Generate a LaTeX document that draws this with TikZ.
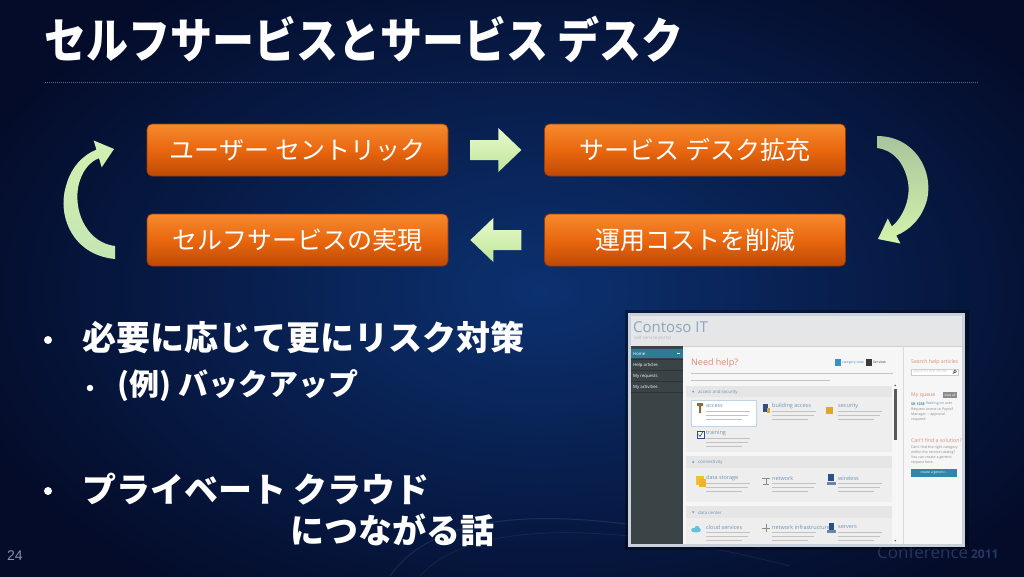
\documentclass[tikz,border=0pt]{standalone}
\usepackage{fontspec}
\setmainfont{Noto Sans CJK JP}
\newfontfamily\uifont{Open Sans}
\newfontfamily\numfont{Liberation Sans}
\usetikzlibrary{calc}
\definecolor{bgc}{HTML}{040C2A}
\definecolor{glowc}{HTML}{0C3170}
\definecolor{orgtop}{HTML}{F68A2E}
\definecolor{orgmid}{HTML}{E9670F}
\definecolor{orgbot}{HTML}{BE4A06}
\definecolor{orgedge}{HTML}{9A3A05}
\definecolor{arrlight}{HTML}{E8FACB}
\definecolor{arrdark}{HTML}{BFE59A}
\definecolor{rulec}{HTML}{5A6688}
\definecolor{scrframe}{HTML}{C9D1DC}
\definecolor{hdrc}{HTML}{E5E6E7}
\definecolor{navc}{HTML}{3A4446}
\definecolor{navsep}{HTML}{2C3436}
\definecolor{navhi}{HTML}{2E7C94}
\definecolor{mainc}{HTML}{F6F6F6}
\definecolor{panelc}{HTML}{EEEEEE}
\definecolor{panelhd}{HTML}{E6E6E6}
\definecolor{salmon}{HTML}{D98A72}
\definecolor{linkc}{HTML}{6E93B4}
\definecolor{greytxt}{HTML}{C2C2C2}
\definecolor{darktxt}{HTML}{8A8A8A}
\definecolor{tealbtn}{HTML}{2F88A8}
\definecolor{confc}{HTML}{27375F}
\definecolor{brandc}{HTML}{8AA6BE}
\definecolor{pgc}{HTML}{8A93A8}
\definecolor{tagline}{HTML}{B0B8C2}
\definecolor{cl1}{HTML}{D2F0B0}
\definecolor{cl2}{HTML}{C4E6B2}
\definecolor{cr1}{HTML}{A8C49C}
\definecolor{cr2}{HTML}{D4F3AC}
\definecolor{hdrline}{HTML}{D0D0D0}
\definecolor{catblue}{HTML}{3A8FC4}
\definecolor{listdark}{HTML}{3A3A3A}
\definecolor{scrollc}{HTML}{5A5A5A}
\definecolor{tileedge}{HTML}{BFD4E4}
\definecolor{keyc}{HTML}{8B6A3C}
\definecolor{goldc}{HTML}{D8A830}
\definecolor{navyc}{HTML}{2C4F8A}
\definecolor{folderc}{HTML}{F0C030}
\definecolor{cloudc}{HTML}{62C2DA}
\definecolor{netc}{HTML}{8C8C80}
\definecolor{sepc}{HTML}{DADADA}
\definecolor{boxedge}{HTML}{CCCCCC}
\definecolor{tagc}{HTML}{8C8C8C}
\begin{document}
\begin{tikzpicture}[x=1pt,y=-1pt,
  box/.style={rounded corners=5pt, minimum width=301pt, minimum height=52pt, inner sep=0pt,
    draw=orgedge, line width=0.7pt, top color=orgtop, bottom color=orgbot, middle color=orgmid,
    text=white, font=\fontsize{25}{30}\selectfont},
  bullettxt/.style={anchor=west, text=white, font=\bfseries\fontsize{34}{40}\selectfont, inner sep=0pt},
  bdot/.style={circle, fill=white, inner sep=0pt, minimum size=8pt},
  tiny/.style={font=\uifont\fontsize{4.2}{5}\selectfont, inner sep=0pt, anchor=west},
  tline/.style={draw=greytxt, line width=0.9pt},
  tiletitle/.style={font=\uifont\fontsize{5.5}{6}\selectfont, inner sep=0pt, anchor=west, text=linkc},
  navtxt/.style={font=\uifont\fontsize{4.3}{5}\selectfont, inner sep=0pt, anchor=west, text=white},
  sidehead/.style={font=\uifont\fontsize{5.2}{6}\selectfont, inner sep=0pt, anchor=west, text=salmon},
  sidetxt/.style={font=\uifont\fontsize{3.6}{4}\selectfont, inner sep=0pt, anchor=west, text=darktxt}]
\useasboundingbox (0,0) rectangle (1024,576);
% background
\begin{scope}
\clip (0,0) rectangle (1024,576);
\fill[bgc] (0,0) rectangle (1024,576);
\shade[inner color=glowc, outer color=bgc] (-60,-80) rectangle (1140,660);
\draw[white, opacity=0.09, line width=1pt] (390,576) .. controls (440,505) and (570,505) .. (760,548);
\draw[white, opacity=0.06, line width=1pt] (420,576) .. controls (470,520) and (610,520) .. (790,566);
\end{scope}
% title
\node[anchor=west, inner sep=0pt, text=white, font=\bfseries\fontsize{42}{50}\selectfont] (title) at (44,39)
  {\scalebox{1}[1.15]{セルフサービスとサービス デスク}};
\draw[rulec, line width=0.8pt, dash pattern=on 1pt off 1pt] (45,82) -- (978,82);
% boxes
\node[box] (b1) at (297.5,150) {ユーザー セントリック};
\node[box] (b2) at (695,150) {サービス デスク拡充};
\node[box] (b3) at (297.5,240) {セルフサービスの実現};
\node[box] (b4) at (695,240) {運用コストを削減};
% straight block arrows
\shade[top color=arrlight, bottom color=arrdark]
  ($(b1.east)+(22,-10)$) -- ++(28,0) -- ++(0,-12) -- ++(23,22) -- ++(-23,22) -- ++(0,-12) -- ++(-28,0) -- cycle;
\shade[top color=arrlight, bottom color=arrdark]
  ($(b3.east)+(22,0)$) -- ++(23,-22) -- ++(0,12) -- ++(28,0) -- ++(0,20) -- ++(-28,0) -- ++(0,12) -- cycle;
% curved arrows
\shade[top color=cl1, bottom color=cl2]
  (115,259) .. controls (72,255) and (57,215) .. (66,186)
  .. controls (71,167) and (83,155) .. (96.4,149.6)
  -- (93.7,140.5) -- (114,149) -- (101.7,167.3) -- (99,158.2)
  .. controls (89,162) and (81,172) .. (78,188)
  .. controls (74,215) and (89,243) .. (115,246) -- cycle;
\shade[top color=cr1, bottom color=cr2]
  (877,136) .. controls (914,136) and (934,170) .. (927,200)
  .. controls (922,218) and (910,230) .. (896.3,235.5)
  -- (900.4,243.5) -- (878,239) -- (887.8,218.5) -- (891.9,226.5)
  .. controls (902,218) and (911,200) .. (908,182)
  .. controls (904,162) and (893,150) .. (877,148) -- cycle;
% bullets
\node[bdot] (d1) at (48,340) {};
\node[bullettxt] (t1) at (82,338) {必要に応じて更にリスク対策};
\node[bdot, minimum size=6.5pt] (d2) at (90,388) {};
\node[bullettxt, font=\bfseries\fontsize{30}{36}\selectfont] (t2) at (117,386) {(例) バックアップ};
\node[bdot] (d3) at (48,491) {};
\node[bullettxt] (t3) at (82,489) {プライベート クラウド};
\node[bullettxt] (t4) at (290,530) {につながる話};
% page number and footer
\node[anchor=west, inner sep=0pt, text=pgc, font=\numfont\fontsize{14}{16}\selectfont] (pg) at (7,556) {24};
\node[anchor=west, inner sep=0pt, text=confc] (conf) at (877,552)
  {\uifont\fontsize{17}{18}\selectfont Conference\hspace{3pt}{\bfseries\fontsize{12}{14}\selectfont 2011}};
% ---------- screenshot ----------
\fill[black, opacity=0.35] (625,310) rectangle (969,550);
\fill[scrframe] (628,313) rectangle (965,547);
\fill[mainc] (631,316) rectangle (962,544);
\fill[hdrc] (631,316) rectangle (962,346);
\draw[hdrline] (631,346) -- (962,346);
\node[anchor=west, inner sep=0pt, text=brandc, font=\uifont\fontsize{15}{16}\selectfont] (brand) at (633,327) {Contoso IT};
\node[tiny, text=tagline, font=\uifont\fontsize{4.5}{5}\selectfont] (tagl) at (634,338) {self service portal};
% nav
\fill[navc] (631,346) rectangle (683,544);
\fill[navhi] (631,349) rectangle (683,358);
\foreach \yy in {359.5,370.5,381.5,392.5} \draw[navsep, line width=0.8pt] (631,\yy) -- (683,\yy);
\node[navtxt] (nhome) at (633,353.5) {Home};
\draw[white, line width=0.4pt] (677,353.5) -- (680,353.5);
\node[navtxt] (nhelp) at (633,365) {Help articles};
\node[navtxt] (nreq) at (633,376) {My requests};
\node[navtxt] (nact) at (633,387) {My activities};
% main area
\node[anchor=west, inner sep=0pt, text=salmon, font=\uifont\fontsize{9}{10}\selectfont] (need) at (691,363) {Need help?};
\fill[catblue] (835,359) rectangle (841,366);
\node[tiny, text=catblue, font=\uifont\fontsize{3.4}{4}\selectfont] (catv) at (842,362.5) {category view};
\fill[listdark] (866,359) rectangle (872,366);
\node[tiny, text=listdark, font=\uifont\fontsize{3.4}{4}\selectfont] (listv) at (873,362.5) {list view};
\draw[tline] (691,373) -- (893,373);
\draw[tline] (691,380) -- (830,380);
% panels
\fill[panelc] (686,386) rectangle (892,452);
\fill[panelhd] (686,386) rectangle (892,397);
\fill[panelc] (686,456) rectangle (892,502);
\fill[panelhd] (686,456) rectangle (892,468);
\fill[panelc] (686,506) rectangle (892,544);
\fill[panelhd] (686,506) rectangle (892,518);
\foreach \yy/\lab [count=\i] in {392/access and security, 462.5/connectivity, 512.5/data center}{
  \fill[linkc] (692,\yy-1.2) -- (694.4,\yy-1.2) -- (693.2,\yy+0.8) -- cycle;
  \node[tiny, text=linkc, font=\uifont\fontsize{4.4}{5}\selectfont] (sec\i) at (698,\yy) {\lab};
}
% scrollbar
\fill[scrollc] (894,389) rectangle (896.6,440);
\fill[scrollc] (894.3,386) -- (896.3,386) -- (895.3,384.5) -- cycle;
\fill[scrollc] (894.3,540) -- (896.3,540) -- (895.3,541.5) -- cycle;
% highlighted tile
\draw[tileedge, fill=white, line width=0.6pt] (691,400) rectangle (756,426);
% tiles
\foreach \xx/\yy/\lab [count=\i] in {706/406/access, 772/406/building access, 838/406/security, 706/433/training,
   706/478/data storage, 772/478/network, 838/478/wireless,
   706/527/cloud services, 772/527/network infrastructure, 838/527/servers}{
  \node[tiletitle] (tile\i) at (\xx,\yy) {\lab};
  \draw[tline, line width=0.7pt] (\xx,\yy+5.5) -- ++(44,0);
  \draw[tline, line width=0.7pt] (\xx,\yy+9.5) -- ++(42,0);
  \draw[tline, line width=0.7pt] (\xx,\yy+13.5) -- ++(36,0);
}
\fill[mainc] (686,544) rectangle (893,546);
\fill[scrframe] (628,544) rectangle (965,547);
% icons
\fill[keyc] (697,403) rectangle (703,406) (699,406) rectangle (701,413);
\fill[navyc] (763,404) rectangle (768,412); \fill[goldc] (767,408) rectangle (770,413);
\fill[goldc] (826,407) rectangle (833,414); \draw[goldc, line width=0.9pt] (827.5,407) arc (180:0:2);
\draw[navyc, line width=0.7pt, fill=white] (697,431) rectangle (704,438);
\draw[navyc, line width=0.7pt] (698.5,434.5) -- (700,436.5) -- (703,431.5);
\fill[folderc] (696,476) rectangle (704,485); \fill[folderc!80!orange] (699,479) rectangle (706,487);
\draw[netc, line width=0.8pt] (762,478) -- (770,478) (766,478) -- (766,484) (763,484) -- (769,484);
\fill[navyc] (828,474) rectangle (834,481); \fill[navyc!70!white] (827,482) rectangle (836,485);
\fill[cloudc] (696,530) ellipse (5 and 2.5); \fill[cloudc] (697,528) circle (2.2);
\draw[netc, line width=0.8pt] (766,524) -- (766,532) (762,528) -- (770,528);
\fill[navyc] (829,523) rectangle (834,530); \fill[navyc!70!white] (827,530) rectangle (836,533);
% sidebar
\draw[sepc] (903,346) -- (903,544);
\node[sidehead] (search) at (911,362) {Search help articles};
\draw[boxedge, fill=white, line width=0.5pt] (911,369) rectangle (958,375);
\node[sidetxt, font=\uifont\fontsize{3.2}{4}\selectfont, text=greytxt] (ph) at (913,372) {search for help articles};
\draw[listdark, line width=0.5pt] (955,371.3) circle (1.4) (954,372.4) -- (952.8,373.8);
\node[sidehead] (queue) at (911,395) {My queue};
\fill[tagc] (943,392) rectangle (957,398);
\node[sidetxt, font=\uifont\fontsize{3.2}{4}\selectfont, text=white, anchor=center] (viewall) at (950,395) {view all};
\node[sidetxt, text=tealbtn, font=\uifont\bfseries\fontsize{3.6}{4}\selectfont] (sr) at (911,404) {SR 1238};
\node[sidetxt, text=linkc] (wait) at (926,404) {Waiting on user};
\node[sidetxt] (req1) at (911,409.5) {Request access to Payroll};
\node[sidetxt] (req2) at (911,414.5) {Manager -- approval};
\node[sidetxt] (req3) at (911,419.5) {required};
\node[sidehead] (cant) at (911,441) {Can't find a solution?};
\node[sidetxt] (c1) at (911,448) {Can't find the right category};
\node[sidetxt] (c2) at (911,452.7) {within the service catalog?};
\node[sidetxt] (c3) at (911,457.4) {You can create a generic};
\node[sidetxt] (c4) at (911,462.1) {request here.};
\fill[tealbtn] (911,469) rectangle (957,477);
\node[sidetxt, text=white, anchor=center, font=\uifont\fontsize{3.3}{4}\selectfont] (btn) at (934,473) {create a generic...};
\end{tikzpicture}
\end{document}
